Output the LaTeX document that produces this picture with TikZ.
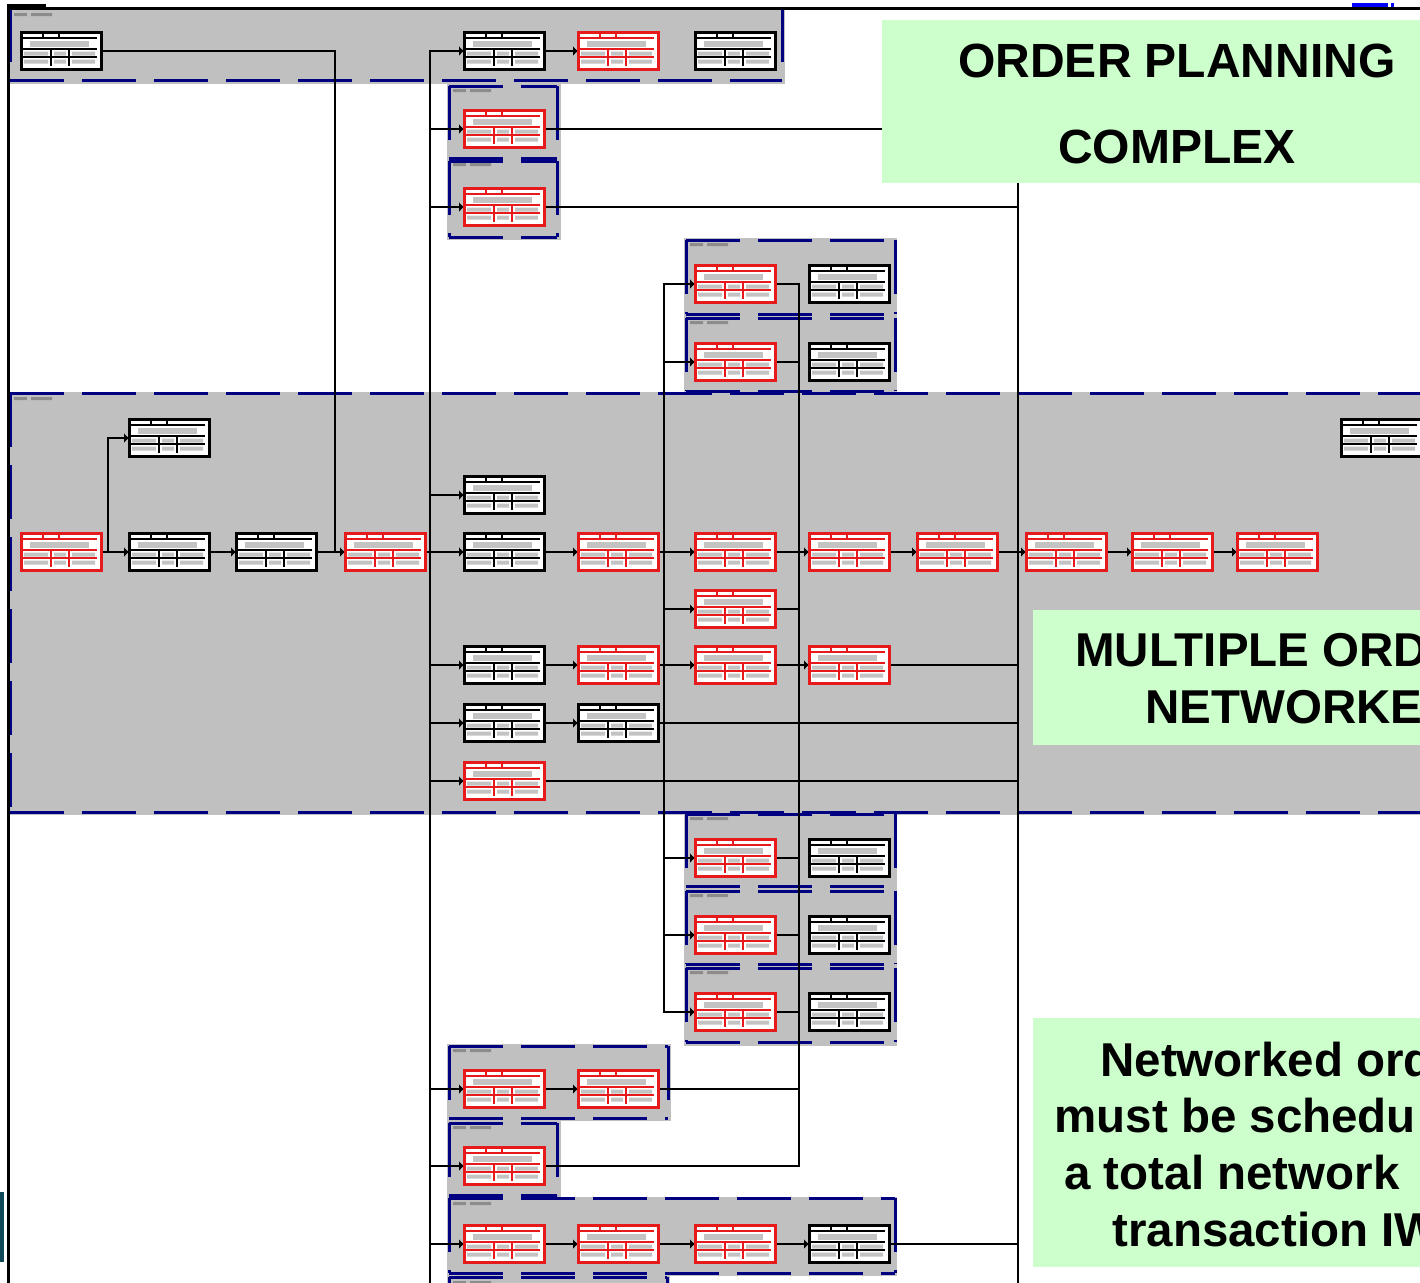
\documentclass[tikz,border=0pt]{standalone}
\usepackage{fontspec}
\newfontfamily\gfont{Liberation Sans}
\usetikzlibrary{arrows.meta}
\definecolor{bandgray}{RGB}{192,192,192}
\definecolor{dashblue}{RGB}{0,0,128}
\definecolor{boxred}{RGB}{230,26,26}
\definecolor{notegreen}{RGB}{204,255,204}
\definecolor{tealbit}{RGB}{12,72,88}
\definecolor{smudge}{RGB}{195,195,195}
\definecolor{labelgray}{RGB}{140,140,140}
\definecolor{purebluebit}{RGB}{0,0,255}

\pgfdeclarelayer{bg}
\pgfdeclarelayer{lines}
\pgfdeclarelayer{top}
\pgfsetlayers{bg,lines,main,top}

\tikzset{
 box/.style={rectangle, fill=white, line width=1.5pt, minimum width=40pt, minimum height=18.5pt, inner sep=0pt, outer sep=0pt},
 conn/.style={line width=1.3pt, black},
 arr/.style={conn, -{Latex[length=2.5pt,width=5pt]}},
 grpdash/.style={dashblue, line width=1.5pt, dash pattern=on 27pt off 9pt},
 notetext/.style={font=\gfont\bfseries\fontsize{23.75}{28}\selectfont, inner sep=0pt, anchor=base west},
 titletext/.style={font=\gfont\bfseries\fontsize{24}{28}\selectfont, inner sep=0pt, anchor=base},
}

\newcommand\actbox[4]{%
  \node[box, draw=#2] (#1) at (#3,#4) {};
  \begin{scope}[shift={(#1.north west)}]
    \fill[smudge] (9,8.5) rectangle (68,14.5);
    \fill[smudge] (3,19) rectangle (27,23) (33,19) rectangle (45,23) (51,19) rectangle (74,23);
    \fill[smudge] (3,27) rectangle (27,31) (33,27) rectangle (45,31) (51,27) rectangle (74,31);
    \draw[#2, line width=1pt] (2,5.5) -- (76,5.5) (2,16.5) -- (76,16.5) (2,24.5) -- (76,24.5)
      (30,16.5) -- (30,33) (48,16.5) -- (48,33) (22,0) -- (22,5.5) (38,0) -- (38,5.5);
  \end{scope}}

\newcommand\grpfill[4]{%
  \fill[bandgray] (#1,#2) rectangle (#3,#4);
  \fill[labelgray] ({#1+6},{#2+5}) rectangle ({#1+19},{#2+8}) ({#1+23},{#2+5}) rectangle ({#1+44},{#2+8});}

\newcommand\grpline[4]{%
  \draw[grpdash] (#1,#2) -- (#3,#2);
  \draw[grpdash] (#1,#4) -- (#3,#4);
  \draw[grpdash] (#1,#2) -- (#1,#4);
  \draw[grpdash] (#3,#2) -- (#3,#4);}

\begin{document}
\begin{tikzpicture}[x=0.5pt,y=-0.5pt]
\useasboundingbox (0,0) rectangle (1420,1282);
\clip (0,0) rectangle (1420,1282);

\begin{pgfonlayer}{bg}
\fill[white] (0,0) rectangle (1420,1282);
% ---------- grey groups ----------
\grpfill{8}{8}{785}{84}
\grpfill{447}{84}{561}{158}
\grpfill{447}{158}{561}{240}
\grpfill{684}{238}{897}{316}
\grpfill{684}{316}{897}{393}
\grpfill{8}{392}{1430}{815}
\grpfill{684}{812}{897}{889}
\grpfill{684}{889}{897}{966}
\grpfill{684}{966}{897}{1046}
\grpfill{447}{1044}{671}{1121}
\grpfill{447}{1121}{561}{1197}
\grpfill{447}{1197}{897}{1276}
\grpfill{447}{1276}{670}{1300}

\grpline{10}{8}{782}{80}
\grpline{449}{86}{557}{158}
\grpline{449}{161}{557}{237}
\grpline{686}{240}{895}{314}
\grpline{686}{318}{895}{391}
\grpline{10}{393}{1440}{812}
\grpline{686}{814}{895}{886}
\grpline{686}{891}{895}{964}
\grpline{686}{968}{895}{1042}
\grpline{449}{1046}{668}{1118}
\grpline{449}{1123}{557}{1195}
\grpline{449}{1198}{895}{1273}
\grpline{449}{1277}{667}{1310}
\end{pgfonlayer}

% ---------- junction coordinates ----------
\coordinate (J108) at (108,552);
\coordinate (J335) at (335,552);
\coordinate (K0) at (430,552);
\coordinate (Kend) at (430,1300);
\coordinate (L0) at (664,552);
\coordinate (M0) at (799,552);
\coordinate (N0) at (1018,552);
\coordinate (Nend) at (1018,1300);

% ---------- activity boxes ----------
\actbox{tA}{black}{61}{51}
\actbox{tB}{black}{504}{51}
\actbox{tC}{boxred}{618}{51}
\actbox{tD}{black}{735}{51}
\actbox{a129}{boxred}{504}{129}
\actbox{a207}{boxred}{504}{207}
\actbox{a284}{boxred}{735}{284}
\actbox{b284}{black}{849}{284}
\actbox{a362}{boxred}{735}{362}
\actbox{b362}{black}{849}{362}
\actbox{a438}{black}{169}{438}
\actbox{b438}{black}{1381}{438}
\actbox{a495}{black}{504}{495}
\actbox{m1}{boxred}{61}{552}
\actbox{m2}{black}{169}{552}
\actbox{m3}{black}{276}{552}
\actbox{m4}{boxred}{385}{552}
\actbox{m5}{black}{504}{552}
\actbox{m6}{boxred}{618}{552}
\actbox{m7}{boxred}{735}{552}
\actbox{m8}{boxred}{849}{552}
\actbox{m9}{boxred}{957}{552}
\actbox{m10}{boxred}{1066}{552}
\actbox{m11}{boxred}{1172}{552}
\actbox{m12}{boxred}{1277}{552}
\actbox{a609}{boxred}{735}{609}
\actbox{a665}{black}{504}{665}
\actbox{b665}{boxred}{618}{665}
\actbox{c665}{boxred}{735}{665}
\actbox{d665}{boxred}{849}{665}
\actbox{a723}{black}{504}{723}
\actbox{b723}{black}{618}{723}
\actbox{a781}{boxred}{504}{781}
\actbox{a858}{boxred}{735}{858}
\actbox{b858}{black}{849}{858}
\actbox{a935}{boxred}{735}{935}
\actbox{b935}{black}{849}{935}
\actbox{a1012}{boxred}{735}{1012}
\actbox{b1012}{black}{849}{1012}
\actbox{a1089}{boxred}{504}{1089}
\actbox{b1089}{boxred}{618}{1089}
\actbox{a1166}{boxred}{504}{1166}
\actbox{a1244}{boxred}{504}{1244}
\actbox{b1244}{boxred}{618}{1244}
\actbox{c1244}{boxred}{735}{1244}
\actbox{d1244}{black}{849}{1244}

% ---------- connectors ----------
\begin{pgfonlayer}{lines}
% main chain
\draw[arr] (m1.east) -- (m2.west);
\draw[arr] (m2.east) -- (m3.west);
\draw[arr] (m3.east) -- (m4.west);
\draw[arr] (m4.east) -- (m5.west);
\draw[arr] (m5.east) -- (m6.west);
\draw[arr] (m6.east) -- (m7.west);
\draw[arr] (m7.east) -- (m8.west);
\draw[arr] (m8.east) -- (m9.west);
\draw[arr] (m9.east) -- (m10.west);
\draw[arr] (m10.east) -- (m11.west);
\draw[arr] (m11.east) -- (m12.west);
% branch from m1
\draw[arr] (J108) |- (a438.west);
% from top-left box
\draw[conn] (tA.east) -| (J335);
% trunk at x=430
\draw[conn] (K0) -- (Kend);
\draw[arr] (K0) |- (tB.west);
\draw[arr] (K0) |- (a129.west);
\draw[arr] (K0) |- (a207.west);
\draw[arr] (K0) |- (a495.west);
\draw[arr] (K0) |- (a665.west);
\draw[arr] (K0) |- (a723.west);
\draw[arr] (K0) |- (a781.west);
\draw[arr] (K0) |- (a1089.west);
\draw[arr] (K0) |- (a1166.west);
\draw[arr] (K0) |- (a1244.west);
% row chains
\draw[arr] (tB.east) -- (tC.west);
\draw[arr] (a665.east) -- (b665.west);
\draw[arr] (b665.east) -- (c665.west);
\draw[arr] (c665.east) -- (d665.west);
\draw[arr] (a723.east) -- (b723.west);
\draw[arr] (a1089.east) -- (b1089.west);
\draw[arr] (a1244.east) -- (b1244.west);
\draw[arr] (b1244.east) -- (c1244.west);
\draw[arr] (c1244.east) -- (d1244.west);
% trunk at x=664
\draw[arr] (L0) |- (a284.west);
\draw[arr] (L0) |- (a362.west);
\draw[arr] (L0) |- (a609.west);
\draw[arr] (L0) |- (a858.west);
\draw[arr] (L0) |- (a935.west);
\draw[arr] (L0) |- (a1012.west);
% trunk at x=799
\draw[conn] (a284.east) -| (M0);
\draw[conn] (a362.east) -| (M0);
\draw[conn] (a609.east) -| (M0);
\draw[conn] (a858.east) -| (M0);
\draw[conn] (a935.east) -| (M0);
\draw[conn] (a1012.east) -| (M0);
\draw[conn] (b1089.east) -| (M0);
\draw[conn] (a1166.east) -| (M0);
% trunk at x=1018
\draw[conn] (N0) -- (Nend);
\draw[conn] (a129.east) -| (N0);
\draw[conn] (a207.east) -| (N0);
\draw[conn] (d665.east) -| (N0);
\draw[conn] (b723.east) -| (N0);
\draw[conn] (a781.east) -| (N0);
\draw[conn] (d1244.east) -| (N0);
\end{pgfonlayer}

% ---------- notes and frame ----------
\begin{pgfonlayer}{top}
\fill[notegreen] (882,20) rectangle (1430,183);
\fill[notegreen] (1033,610) rectangle (1430,745);
\fill[notegreen] (1033,1018) rectangle (1430,1267);
\node[titletext] (op1) at (1177,77) {ORDER PLANNING};
\node[titletext] (op2) at (1177,163) {COMPLEX};
\node[notetext] (mo1) at (1075,666) {MULTIPLE ORD};
\node[notetext] (mo2) at (1145,723) {NETWORKE};
\node[notetext] (nw1) at (1100,1076) {Networked ord};
\node[notetext] (nw2) at (1054,1132) {must be schedu};
\node[notetext] (nw3) at (1064,1189) {a total network};
\node[notetext] (nw4) at (1112,1246) {transaction IW};
% frame
\draw[line width=1.5pt] (8,1300) -- (8,8) -- (1430,8);
\fill[black] (7,4) rectangle (46,8);
\fill[purebluebit] (1352,3) rectangle (1388,7);
\fill[purebluebit] (1391,3) rectangle (1394,7);
\fill[tealbit] (0,1192) rectangle (4,1262);
\end{pgfonlayer}

\end{tikzpicture}
\end{document}
